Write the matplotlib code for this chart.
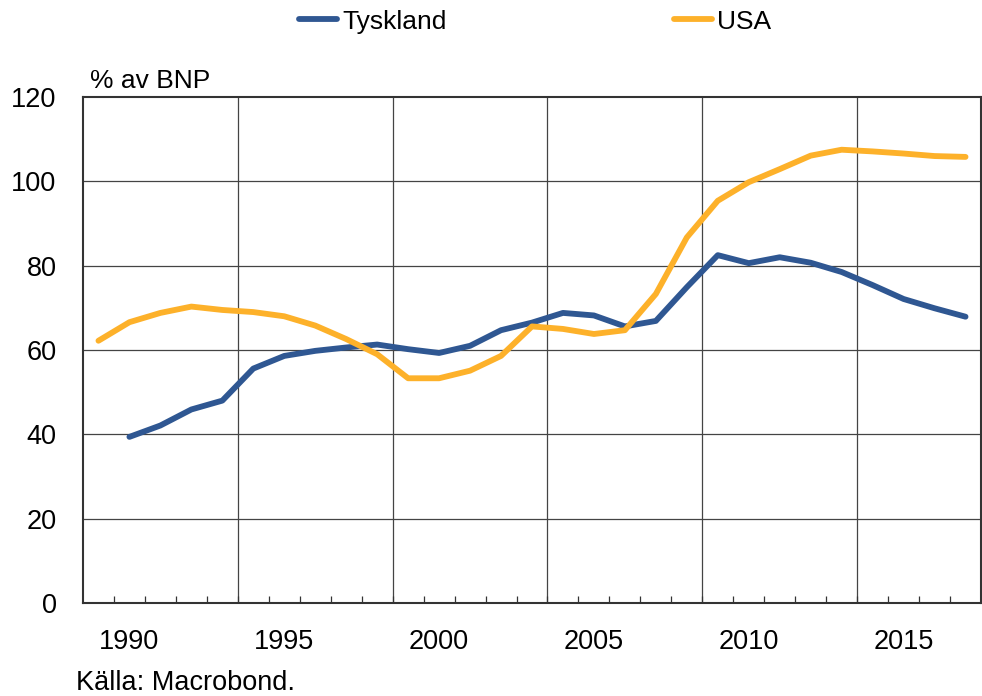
import numpy as np
import matplotlib
matplotlib.use("Agg")
import matplotlib.pyplot as plt

plt.rcParams['font.family'] = ['Liberation Sans', 'DejaVu Sans']

# data, % of GDP
years_de = np.arange(1990, 2018)
tyskland = [39.4, 42.1, 45.9, 48.0, 55.6, 58.6, 59.8, 60.6, 61.3, 60.2,
            59.3, 61.0, 64.7, 66.5, 68.8, 68.2, 65.6, 66.9, 74.9, 82.5,
            80.6, 82.0, 80.7, 78.5, 75.4, 72.1, 69.9, 67.9]
years_us = np.arange(1989, 2018)
usa = [62.2, 66.6, 68.8, 70.3, 69.5, 69.0, 68.0, 65.8, 62.6, 59.0,
       53.3, 53.3, 55.1, 58.6, 65.6, 65.0, 63.8, 64.7, 73.3, 86.7,
       95.4, 99.8, 102.9, 106.1, 107.5, 107.1, 106.6, 106.0, 105.8]
label_years = [1990, 1995, 2000, 2005, 2010, 2015]
grid_years = [1994, 1999, 2004, 2009, 2014]
yticks = [0, 20, 40, 60, 80, 100, 120]

blue = "#2F5792"
orange = "#FDB12A"

fig = plt.figure(figsize=(9.82, 6.96), dpi=100)
ax = fig.add_axes([0.0845, 0.1336, 0.9145, 0.727])

# annual data plotted mid-year
l1, = ax.plot(years_de + 0.5, tyskland, color=blue, lw=4.2, label="Tyskland",
              solid_capstyle="round", zorder=3)
l2, = ax.plot(years_us + 0.5, usa, color=orange, lw=4.2, label="USA",
              solid_capstyle="round", zorder=3)

ax.set_xlim(1989, 2018)
ax.set_ylim(0, 120)

for y in yticks[1:-1]:
    ax.axhline(y, color="#444444", lw=0.9, zorder=1)
for x in grid_years:
    ax.axvline(x, color="#444444", lw=0.9, zorder=1)

ax.set_xticks([y + 0.5 for y in label_years])
ax.set_xticklabels([str(y) for y in label_years])
ax.set_xticks(np.arange(1990, 2018), minor=True)
ax.tick_params(axis="x", which="major", length=0, pad=19, labelsize=19.5)
ax.tick_params(axis="x", which="minor", direction="in", length=5, width=0.9, color="#333333")
ax.set_yticks(yticks)
ax.tick_params(axis="y", length=0, pad=19, labelsize=19.5)

for s in ax.spines.values():
    s.set_color("#333333")
    s.set_linewidth(1.5)

fig.text(0.092, 0.866, "% av BNP", fontsize=19, ha="left", va="bottom")
fig.text(0.077, 0.018, "Källa: Macrobond.", fontsize=19.5, ha="left", va="center")

fig.legend(handles=[l1, l2], loc="center", bbox_to_anchor=(0.545, 0.969),
           ncol=2, frameon=False, fontsize=19, handlelength=1.45,
           handletextpad=0.2, columnspacing=8.6)

fig.savefig("out.png", dpi=100)
